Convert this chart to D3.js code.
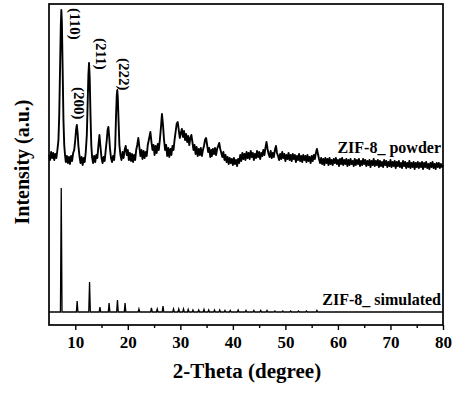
<!DOCTYPE html>
<html lang="en">
<head>
<meta charset="UTF-8">
<title>ZIF-8 XRD</title>
<script src="https://d3js.org/d3.v7.min.js"></script>
<style>
    body { margin: 0; background: #fff; }
    svg { display: block; }
    text { font-family: "Liberation Serif", "Times New Roman", serif; font-weight: bold; fill: #000; }
</style>
</head>
<body>
<script>
    // powder pattern: [2-theta, intensity a.u.]
    const powder = [
        [5.0,170],[5.2,165],[5.4,173],[5.6,167],[5.8,172],[6.0,165],[6.2,171],[6.4,167],[6.6,175],
        [6.8,185],[6.95,210],[7.1,255],[7.25,300],[7.35,315],[7.45,303],[7.6,255],[7.75,205],[7.9,180],
        [8.05,170],[8.2,163],[8.4,169],[8.6,162],[8.8,168],[9.0,161],[9.2,169],[9.4,164],[9.6,172],
        [9.8,175],[10.0,185],[10.15,195],[10.3,200],[10.45,192],[10.6,179],[10.8,169],[11.0,162],
        [11.2,168],[11.4,160],[11.6,167],[11.8,163],[12.0,173],[12.2,190],[12.35,220],[12.5,250],
        [12.62,262],[12.75,247],[12.9,210],[13.05,180],[13.2,168],[13.4,162],[13.6,169],[13.8,163],
        [14.0,170],[14.2,167],[14.4,179],[14.6,190],[14.8,178],[15.0,167],[15.2,162],[15.4,168],
        [15.6,164],[15.8,175],[16.0,185],[16.15,195],[16.3,198],[16.45,189],[16.6,177],[16.8,167],
        [17.0,163],[17.2,169],[17.4,165],[17.6,178],[17.75,207],[17.9,230],[18.0,235],[18.1,227],
        [18.25,203],[18.4,180],[18.6,170],[18.8,165],[19.0,173],[19.2,167],[19.4,175],[19.6,179],
        [19.8,170],[20.0,175],[20.2,165],[20.4,172],[20.6,164],[20.8,171],[21.0,163],[21.2,170],
        [21.4,165],[21.6,175],[21.8,180],[22.0,187],[22.2,178],[22.4,169],[22.6,175],[22.8,166],
        [23.0,174],[23.2,167],[23.4,173],[23.6,169],[23.8,180],[24.0,185],[24.3,193],[24.5,183],
        [24.7,175],[24.9,180],[25.1,170],[25.3,179],[25.5,172],[25.7,181],[25.9,175],[26.1,185],
        [26.3,197],[26.5,211],[26.7,200],[26.9,185],[27.1,175],[27.3,180],[27.5,169],[27.7,177],
        [27.9,168],[28.1,176],[28.3,170],[28.5,179],[28.7,175],[28.9,185],[29.1,193],[29.3,201],
        [29.5,203],[29.7,195],[29.9,187],[30.1,192],[30.3,196],[30.5,188],[30.7,194],[30.9,185],
        [31.1,191],[31.3,183],[31.5,189],[31.7,180],[31.9,187],[32.1,190],[32.3,183],[32.5,175],
        [32.7,180],[32.9,171],[33.1,178],[33.3,169],[33.5,176],[33.7,170],[33.9,177],[34.1,169],
        [34.3,175],[34.5,179],[34.7,185],[34.9,187],[35.1,180],[35.3,173],[35.5,177],[35.7,168],
        [35.9,175],
        [36.0,169],[36.2,176],[36.4,171],[36.6,177],[36.8,170],[37.0,176],[37.2,179],[37.4,182],
        [37.6,176],[37.8,172],[38.0,168],[38.2,173],[38.4,165],[38.6,170],[38.8,163],[39.0,168],
        [39.2,161],[39.4,167],[39.6,162],[39.8,166],[40.0,160],[40.2,167],[40.4,161],[40.6,165],
        [40.8,159],[41.0,166],[41.2,162],[41.4,170],[41.6,164],[41.8,172],[42.0,166],[42.2,171],
        [42.4,165],[42.6,173],[42.8,167],[43.0,172],[43.2,166],[43.4,174],[43.6,168],[43.8,172],
        [44.0,165],[44.2,171],[44.4,167],[44.6,174],[44.8,168],[45.0,173],[45.2,166],[45.4,172],
        [45.6,169],[45.8,175],[46.0,170],[46.2,177],[46.4,183],[46.6,176],[46.8,171],[47.0,168],
        [47.2,174],[47.4,167],[47.6,172],[47.8,168],[48.0,175],[48.2,179],[48.4,172],[48.6,169],
        [48.8,165],[49.0,171],[49.2,166],[49.4,173],[49.6,167],[49.8,171],[50.0,164],[50.2,170],
        [50.4,166],[50.6,172],[50.8,165],[51.0,170],[51.2,164],[51.4,171],[51.6,166],[51.8,170],
        [52.0,163],[52.2,169],[52.4,165],[52.6,171],[52.8,164],[53.0,169],[53.2,163],[53.4,170],
        [53.6,165],[53.8,169],[54.0,163],[54.2,170],[54.4,164],[54.6,168],[54.8,162],[55.0,169],
        [55.2,164],[55.4,170],[55.6,166],[55.8,172],[56.0,176],[56.2,171],[56.4,166],[56.6,162],
        [56.8,167],[57.0,161],[57.2,166],[57.4,160],[57.6,167],[57.8,162],[58.0,166],[58.2,160],
        [58.4,167],[58.6,161],[58.8,165],[59.0,160],[59.2,166],[59.4,162],[59.6,167],[59.8,161],
        [60.0,165],[60.2,159],[60.4,166],[60.6,161],[60.8,167],[61.0,160],[61.2,165],[61.4,161],
        [61.6,166],[61.8,159],[62.0,165],[62.2,160],[62.4,166],[62.6,161],[62.8,164],[63.0,159],
        [63.2,166],[63.4,160],[63.6,165],[63.8,161],[64.0,166],[64.2,159],[64.4,164],[64.6,160],
        [64.8,166],[65.0,161],[65.2,165],[65.4,159],[65.6,164],[65.8,160],[66.0,165],[66.2,158],
        [66.4,164],[66.6,160],[66.8,166],[67.0,159],[67.2,164],[67.4,160],[67.6,165],[67.8,158],
        [68.0,164],[68.2,159],[68.4,163],[68.6,158],[68.8,165],[69.0,160],[69.2,164],[69.4,158],
        [69.6,163],[69.8,159],[70.0,165],[70.2,158],[70.4,163],[70.6,159],[70.8,164],[71.0,157],
        [71.2,163],[71.4,159],[71.6,164],[71.8,158],[72.0,162],[72.2,157],[72.4,164],[72.6,159],
        [72.8,163],[73.0,157],[73.2,162],[73.4,158],[73.6,164],[73.8,157],[74.0,162],[74.2,158],
        [74.4,163],[74.6,156],[74.8,162],[75.0,158],[75.2,163],[75.4,157],[75.6,162],[75.8,158],
        [76.0,163],[76.2,156],[76.4,162],[76.6,158],[76.8,163],[77.0,157],[77.2,161],[77.4,156],
        [77.6,162],[77.8,158],[78.0,163],[78.2,157],[78.4,161],[78.6,156],[78.8,162],[79.0,158],
        [79.2,162],[79.4,157],[79.6,161],[79.8,158],[80.0,160]
    ];

    // simulated stick pattern
    const simBase = 13;
    const simTheta = [7.33, 10.36, 12.72, 14.7, 16.44, 18.03, 19.48, 22.12, 24.5, 25.6, 26.7, 28.7,
        29.7, 30.6, 31.5, 32.4, 33.5, 34.5, 35.4, 36.5, 37.5, 38.5, 39.5, 41.0, 42.5, 44.0, 45.3,
        46.5, 48.0, 49.5, 51.0, 52.5, 54.0, 56.0];
    const simHeight = [124, 11, 30, 5, 9, 12, 9, 3, 4, 3, 6, 3, 3, 3, 2.5, 2, 2, 2.5, 2, 2, 2, 1.5,
        1.5, 2, 1.5, 1.5, 1.5, 1.5, 1, 1, 1, 1, 1, 1.5];

    const xMajor = [10, 20, 30, 40, 50, 60, 70, 80];
    const xMinor = [15, 25, 35, 45, 55, 65, 75];
    const peakLabels = ["(110)", "(200)", "(211)", "(222)"];

    const width = 456, height = 394;
    const margin = { left: 49, right: 13, top: 4, bottom: 69 };

    const svg = d3.select("body").append("svg")
        .attr("width", width)
        .attr("height", height);

    const x = d3.scaleLinear().domain([5, 80]).range([margin.left, width - margin.right]);
    const y = d3.scaleLinear().domain([0, 321]).range([height - margin.bottom, margin.top]);

    const line = d3.line().x(d => x(d[0])).y(d => y(d[1]));

    // powder curve
    svg.append("path")
        .datum(powder)
        .attr("d", line)
        .attr("fill", "none")
        .attr("stroke", "#000")
        .attr("stroke-width", 1.9)
        .attr("stroke-linejoin", "round");

    // simulated: narrow peaks on a flat baseline
    const simPts = [[5, simBase]];
    simTheta.forEach((t, i) => {
        simPts.push([t - 0.15, simBase], [t, simBase + simHeight[i]], [t + 0.15, simBase]);
    });
    simPts.push([80, simBase]);

    svg.append("path")
        .datum(simPts)
        .attr("d", line)
        .attr("fill", "none")
        .attr("stroke", "#000")
        .attr("stroke-width", 1.3);

    // frame
    svg.append("rect")
        .attr("x", x(5))
        .attr("y", y(321))
        .attr("width", x(80) - x(5))
        .attr("height", y(0) - y(321))
        .attr("fill", "none")
        .attr("stroke", "#000")
        .attr("stroke-width", 1.7);

    // x axis
    const gx = svg.append("g").attr("transform", `translate(0,${y(0)})`);
    gx.call(d3.axisBottom(x).tickValues(xMajor).tickSize(5).tickPadding(6).tickFormat(d3.format("d")));
    gx.append("g").call(d3.axisBottom(x).tickValues(xMinor).tickSize(3).tickFormat(""));
    gx.selectAll(".domain").remove();
    gx.selectAll("line").attr("stroke", "#000").attr("stroke-width", 1.4);
    gx.selectAll("text")
        .style("font-family", "'Liberation Serif', serif")
        .style("font-weight", "bold")
        .style("font-size", "17px")
        .attr("fill", "#000");

    svg.append("text")
        .attr("x", 247)
        .attr("y", 378)
        .attr("text-anchor", "middle")
        .style("font-size", "21px")
        .text("2-Theta (degree)");

    svg.append("text")
        .attr("transform", "translate(29,162) rotate(-90)")
        .attr("text-anchor", "middle")
        .style("font-size", "20px")
        .text("Intensity (a.u.)");

    // series labels
    svg.append("text")
        .attr("x", 441)
        .attr("y", 153)
        .attr("text-anchor", "end")
        .style("font-size", "16px")
        .text("ZIF-8_ powder");

    svg.append("text")
        .attr("x", 441)
        .attr("y", 305)
        .attr("text-anchor", "end")
        .style("font-size", "16px")
        .text("ZIF-8_ simulated");

    // peak index labels, vertical
    const labelX = [70, 74, 96, 119];
    const labelY = [8, 87, 38, 58];
    peakLabels.forEach((s, i) => {
        svg.append("text")
            .attr("transform", `translate(${labelX[i]},${labelY[i]}) rotate(90)`)
            .style("font-size", "15px")
            .text(s);
    });
</script>
</body>
</html>
